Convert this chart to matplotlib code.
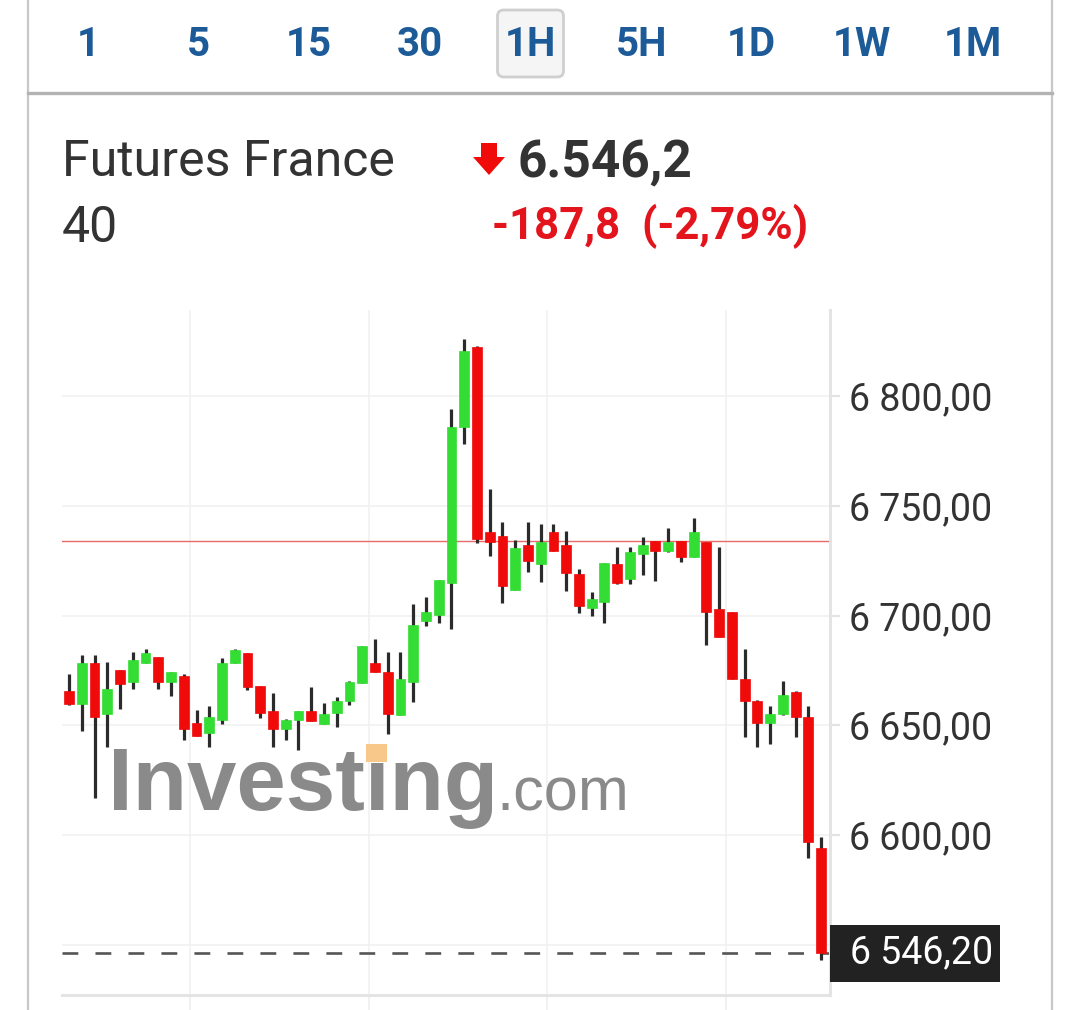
import numpy as np
import matplotlib
matplotlib.use('Agg')
import matplotlib.pyplot as plt
from matplotlib.patches import FancyBboxPatch, Rectangle, Polygon
from matplotlib.lines import Line2D
from matplotlib.transforms import blended_transform_factory

plt.rcParams['font.family'] = ['Roboto', 'DejaVu Sans']

# hourly candles (OHLC)
opens = [6665.6, 6659.7, 6678.4, 6655.1, 6675.2, 6669.7, 6678.4, 6681.1, 6669.7, 6672.4,
         6651.0, 6646.5, 6652.4, 6678.4, 6682.9, 6667.9, 6656.5, 6648.3, 6652.4, 6656.5,
         6650.6, 6655.6, 6661.0, 6669.2, 6678.4, 6674.3, 6654.7, 6669.7, 6697.5, 6700.2,
         6714.8, 6785.9, 6822.3, 6738.0, 6736.2, 6711.6, 6732.1, 6723.5, 6738.0, 6732.1,
         6718.9, 6703.4, 6706.1, 6723.5, 6716.6, 6728.0, 6733.9, 6729.4, 6733.9, 6726.6,
         6733.5, 6703.0, 6701.6, 6671.1, 6661.0, 6651.0, 6655.1, 6665.1, 6653.8, 6594.1]
highs = [6673.3, 6682.0, 6682.0, 6678.8, 6675.2, 6683.4, 6684.7, 6681.1, 6674.3, 6673.3,
         6656.9, 6658.8, 6680.6, 6684.7, 6682.9, 6667.9, 6664.7, 6652.8, 6656.5, 6667.4,
         6660.1, 6662.9, 6670.2, 6686.1, 6689.3, 6683.4, 6683.4, 6705.2, 6708.4, 6716.2,
         6794.1, 6826.0, 6822.8, 6757.6, 6742.6, 6734.4, 6742.6, 6741.7, 6741.7, 6738.5,
         6721.2, 6710.7, 6723.9, 6731.2, 6731.2, 6735.8, 6733.9, 6739.9, 6733.9, 6744.4,
         6733.5, 6731.2, 6701.6, 6684.7, 6661.5, 6658.8, 6670.2, 6665.6, 6658.8, 6599.1]
lows = [6659.2, 6647.4, 6616.8, 6640.1, 6657.4, 6666.5, 6678.4, 6666.5, 6663.3, 6643.3,
        6645.1, 6640.1, 6650.6, 6678.4, 6666.0, 6653.3, 6640.1, 6643.3, 6638.7, 6651.9,
        6650.6, 6649.2, 6659.2, 6669.2, 6674.3, 6646.0, 6654.7, 6660.6, 6695.2, 6696.6,
        6693.8, 6778.1, 6733.0, 6727.1, 6705.7, 6711.6, 6719.8, 6715.3, 6729.4, 6711.2,
        6701.1, 6699.8, 6696.6, 6714.3, 6714.3, 6718.4, 6715.7, 6728.9, 6724.4, 6726.6,
        6686.6, 6690.2, 6671.1, 6644.6, 6640.1, 6641.5, 6654.7, 6644.6, 6589.5, 6543.0]
closes = [6659.7, 6678.4, 6653.8, 6666.5, 6668.8, 6679.7, 6682.9, 6669.7, 6674.3, 6648.3,
          6645.1, 6653.8, 6678.4, 6684.3, 6667.5, 6655.6, 6648.3, 6652.4, 6656.5, 6651.9,
          6655.1, 6661.0, 6669.7, 6686.1, 6674.3, 6655.1, 6671.1, 6695.7, 6701.6, 6716.2,
          6785.9, 6820.5, 6734.8, 6733.5, 6713.4, 6730.7, 6724.8, 6733.5, 6729.4, 6719.4,
          6704.3, 6707.5, 6723.9, 6714.8, 6728.9, 6732.1, 6729.4, 6733.5, 6726.6, 6738.0,
          6701.6, 6690.2, 6671.1, 6661.0, 6651.0, 6655.1, 6663.8, 6653.8, 6596.8, 6546.2]

prev_close = 6734.0
last_price = 6546.2
price_ticks = [6550, 6600, 6650, 6700, 6750, 6800]
day_breaks = [9.5, 23.5, 37.5, 51.5]

title_lines = ['Futures France', '40']
price_text = '6.546,2'
change_text = '-187,8  (-2,79%)'
tabs = ['1', '5', '15', '30', '1H', '5H', '1D', '1W', '1M']
active_tab = '1H'

GREEN = '#33dd33'
RED = '#f00a0a'
WICK = '#2b2b2b'


def fr_num(v):
    return f'{v:,.2f}'.replace(',', ' ').replace('.', ',')


W, H = 1080, 1010
fig = plt.figure(figsize=(W / 100, H / 100), dpi=100)
fig.patch.set_facecolor('white')

# ---- chart area
ax = fig.add_axes([62 / W, 1 - 995 / H, (830 - 62) / W, (995 - 310) / H])
x = np.arange(len(opens))
o = np.array(opens); h = np.array(highs); l = np.array(lows); c = np.array(closes)
up = c >= o
cols = np.where(up, GREEN, RED)

ax.vlines(x, l, h, color=WICK, lw=2.3, zorder=3)
body_b = np.minimum(o, c)
body_h = np.maximum(np.abs(c - o), 0.8)
ax.bar(x, body_h, bottom=body_b, width=0.78, color=cols, edgecolor=cols, lw=0.5, zorder=4)

ax.axhline(prev_close, color='#e86a6a', lw=1.0, zorder=2)
ax.axhline(last_price, color='#555555', lw=1.9, ls=(0, (6, 6.5)), zorder=2)

ax.set_xlim(-0.55, 59.69)
ax.set_ylim(6527.1, 6839.2)

ax.set_yticks(price_ticks)
ax.set_yticklabels([fr_num(v) if v != 6550 else '' for v in price_ticks])
ax.yaxis.tick_right()
ax.tick_params(axis='y', length=7, width=1.5, color='#e3e3e3', pad=7,
               labelsize=27, labelcolor='#333333')
ax.set_xticks(day_breaks)
ax.set_xticklabels([])
ax.tick_params(axis='x', length=11, width=1.2, color='#efefef', direction='out')
ax.grid(True, color='#f1f1f1', lw=1.2, zorder=0)
for s in ['top', 'left']:
    ax.spines[s].set_visible(False)
for s in ['right', 'bottom']:
    ax.spines[s].set_color('#e4e4e4')
    ax.spines[s].set_linewidth(2.2)
ax.set_axisbelow(True)

# last price tag
tr = blended_transform_factory(ax.transAxes, ax.transData)
ax.add_patch(Rectangle((1.0, last_price - 13), 170 / 768, 26, transform=tr,
                       fc='#222222', ec='none', clip_on=False, zorder=6))
ax.text(1 + 20 / 768, last_price, fr_num(last_price), transform=tr, ha='left', va='center',
        fontsize=27, color='white', clip_on=False, zorder=7)

# watermark
ax.text(0.060, 0.270, 'Investing', transform=ax.transAxes, fontsize=64, fontweight='bold',
        family='Liberation Sans', color='#8a8a8a', zorder=1)
ax.text(0.566, 0.270, '.com', transform=ax.transAxes, fontsize=44,
        family='Liberation Sans', color='#8a8a8a', zorder=1)
fig.patches.append(Rectangle((366 / W, 1 - 762 / H), 21 / W, 18 / H, transform=fig.transFigure,
                             fc='#f7c88a', ec='none', zorder=2))

# ---- header
fig.text(62 / W, 1 - 176 / H, title_lines[0], fontsize=36, color='#333333', va='baseline')
fig.text(62 / W, 1 - 242 / H, title_lines[1], fontsize=36, color='#333333', va='baseline')
fig.text(518 / W, 1 - 177 / H, price_text, fontsize=37, fontweight='bold', color='#333333',
         va='baseline')
fig.text(492 / W, 1 - 239 / H, change_text, fontsize=31.5, fontweight='bold', color='#e3141b',
         va='baseline')
arrow = [(481, 143), (497, 143), (497, 157), (505, 157), (489, 175), (473, 157), (481, 157)]
fig.patches.append(Polygon([(px / W, 1 - py / H) for px, py in arrow], closed=True,
                           transform=fig.transFigure, fc='#f00a0a', ec='none'))

# tabs
tab_x = np.linspace(88, 973, len(tabs))
for tx, t in zip(tab_x, tabs):
    if t == active_tab:
        fig.patches.append(FancyBboxPatch(((tx - 33) / W, 1 - 77 / H), 66 / W, 67 / H,
                                          boxstyle='round,pad=0,rounding_size=0.006',
                                          transform=fig.transFigure, fc='#f5f5f5',
                                          ec='#cfcfcf', lw=2))
    fig.text(tx / W, 1 - 56 / H, t, fontsize=29, fontweight='bold', color='#1d5a98',
             ha='center', va='baseline', family=['Liberation Sans Narrow', 'Roboto'])

# frame lines
fig.add_artist(Line2D([28 / W, 28 / W], [0, 1], color='#c8c8c8', lw=1.6))
fig.add_artist(Line2D([1052 / W, 1052 / W], [0, 1], color='#c8c8c8', lw=1.6))
fig.add_artist(Line2D([28 / W, 1052 / W], [1 - 93 / H, 1 - 93 / H], color='#b3b3b3', lw=2.4))

fig.savefig('out.png', dpi=100)
